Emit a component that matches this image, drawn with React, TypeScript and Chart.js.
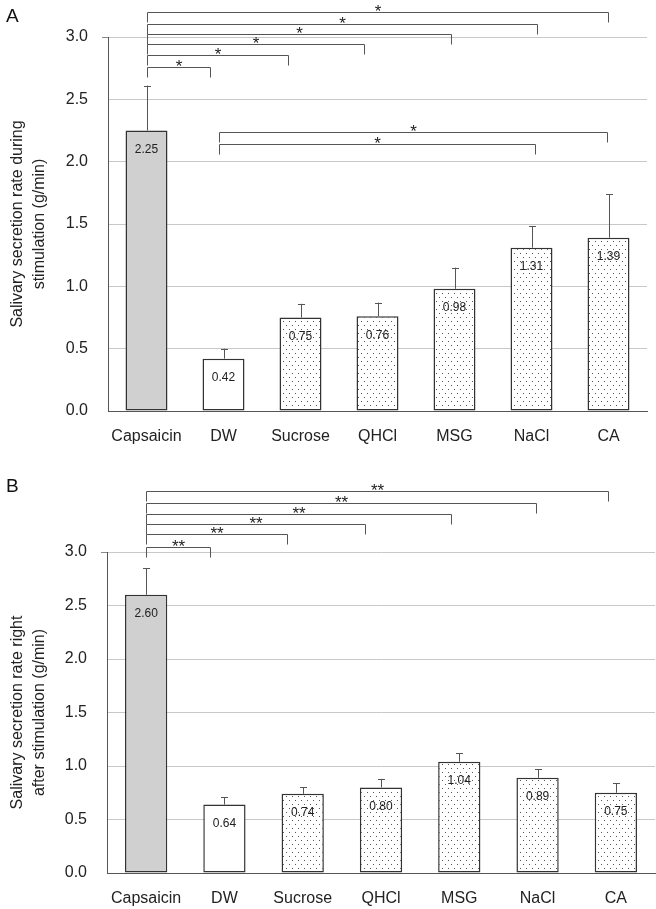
import React, { useEffect, useRef } from "react";
import { Chart, registerables } from "chart.js";
Chart.register(...registerables);

const FONT = "'Liberation Sans', Arial, sans-serif";

const categories = ["Capsaicin", "DW", "Sucrose", "QHCl", "MSG", "NaCl", "CA"];

const meansA = [2.25, 0.42, 0.75, 0.76, 0.98, 1.31, 1.39];
const sdA = [0.36, 0.08, 0.11, 0.11, 0.17, 0.17, 0.35];

const meansB = [2.6, 0.64, 0.74, 0.8, 1.04, 0.89, 0.75];
const sdB = [0.25, 0.07, 0.06, 0.08, 0.08, 0.08, 0.09];

const yMin = 0;
const yMax = 3;
const yStep = 0.5;

const titleA = ["Salivary secretion rate during", "stimulation (g/min)"];
const titleB = ["Salivary secretion rate right", "after stimulation (g/min)"];

// significance brackets: start / end in category-index units, level in y units
const bracketStartA = [0, 0, 0, 0, 0, 0, 0.94, 0.94];
const bracketEndA = [0.825, 1.84, 2.82, 3.95, 5.07, 5.99, 5.05, 5.98];
const bracketLevelA = [2.757, 2.856, 2.941, 3.022, 3.104, 3.198, 2.139, 2.235];
const bracketMarkA = ["*", "*", "*", "*", "*", "*", "*", "*"];

const bracketStartB = [0, 0, 0, 0, 0, 0];
const bracketEndB = [0.82, 1.8, 2.79, 3.89, 4.98, 5.9];
const bracketLevelB = [3.05, 3.165, 3.265, 3.358, 3.454, 3.566];
const bracketMarkB = ["**", "**", "**", "**", "**", "**"];

type Cfg = {
  letter: string;
  letterY: number;
  means: number[];
  sds: number[];
  title: string[];
  bStart: number[];
  bEnd: number[];
  bLevel: number[];
  bMark: string[];
  height: number;
  padTop: number;
  padRight: number;
  yWidth: number;
  xHeight: number;
  barPct: number;
};

function makeOverlay(cfg: Cfg) {
  return {
    id: "overlay" + cfg.letter,
    afterDatasetsDraw(chart: any) {
      const ctx = chart.ctx;
      const ys = chart.scales.y;
      const xs = chart.scales.x;
      const meta = chart.getDatasetMeta(0);
      ctx.save();
      // error bars
      ctx.strokeStyle = "#555";
      ctx.lineWidth = 1;
      meta.data.forEach((bar: any, i: number) => {
        const x = Math.round(bar.x) + 0.5;
        const yTop = ys.getPixelForValue(cfg.means[i] + cfg.sds[i]);
        ctx.beginPath();
        ctx.moveTo(x, bar.y);
        ctx.lineTo(x, yTop);
        ctx.moveTo(x - 3.5, Math.round(yTop) + 0.5);
        ctx.lineTo(x + 3.5, Math.round(yTop) + 0.5);
        ctx.stroke();
      });
      // value labels
      ctx.fillStyle = "#222";
      ctx.font = `12px ${FONT}`;
      ctx.textAlign = "center";
      ctx.textBaseline = "middle";
      meta.data.forEach((bar: any, i: number) => {
        ctx.fillText(cfg.means[i].toFixed(2), bar.x, bar.y + 19);
      });
      // brackets
      const x0 = xs.getPixelForValue(0);
      const step = xs.getPixelForValue(1) - x0;
      ctx.strokeStyle = "#555";
      ctx.lineWidth = 1;
      ctx.font = `17px ${FONT}`;
      ctx.textBaseline = "alphabetic";
      for (let k = 0; k < cfg.bLevel.length; k++) {
        const xa = Math.round(x0 + cfg.bStart[k] * step) + 0.5;
        const xb = Math.round(x0 + cfg.bEnd[k] * step) + 0.5;
        const y = Math.round(ys.getPixelForValue(cfg.bLevel[k])) + 0.5;
        ctx.beginPath();
        ctx.moveTo(xa, y + 10);
        ctx.lineTo(xa, y);
        ctx.lineTo(xb, y);
        ctx.lineTo(xb, y + 10);
        ctx.stroke();
        ctx.fillStyle = "#222";
        ctx.fillText(cfg.bMark[k], (xa + xb) / 2, y + 4);
      }
      // panel letter
      ctx.textAlign = "left";
      ctx.textBaseline = "middle";
      ctx.font = `19px ${FONT}`;
      ctx.fillStyle = "#111";
      ctx.fillText(cfg.letter, 6, cfg.letterY);
      ctx.restore();
    },
  };
}

function Panel({ cfg }: { cfg: Cfg }) {
  const ref = useRef<HTMLCanvasElement | null>(null);
  useEffect(() => {
    const canvas = ref.current!;
    const c2 = canvas.getContext("2d")!;
    const tile = document.createElement("canvas");
    tile.width = 6;
    tile.height = 8;
    const g = tile.getContext("2d")!;
    g.fillStyle = "#fff";
    g.fillRect(0, 0, 6, 8);
    g.fillStyle = "#555";
    g.fillRect(1, 1, 1, 1);
    g.fillRect(4, 5, 1, 1);
    const pattern = c2.createPattern(tile, "repeat")!;
    const fills = categories.map((_, i) => (i === 0 ? "#d0d0d0" : i === 1 ? "#ffffff" : pattern));

    const chart = new Chart(canvas, {
      type: "bar",
      data: {
        labels: categories,
        datasets: [
          {
            data: cfg.means,
            backgroundColor: fills as any,
            borderColor: "#333",
            borderWidth: 1.5,
            borderSkipped: false,
            barPercentage: cfg.barPct,
            categoryPercentage: 1,
          },
        ],
      },
      options: {
        responsive: false,
        animation: false,
        layout: { padding: { top: cfg.padTop, right: cfg.padRight, left: 0, bottom: 0 } },
        plugins: { legend: { display: false }, tooltip: { enabled: false } },
        scales: {
          x: {
            grid: { display: false, drawTicks: false },
            border: { display: true, color: "#555", width: 1 },
            ticks: { font: { family: FONT, size: 16 }, color: "#222", padding: 16, maxRotation: 0 },
            afterFit: (s: any) => {
              s.height = cfg.xHeight;
            },
          },
          y: {
            min: yMin,
            max: yMax,
            ticks: {
              stepSize: yStep,
              callback: (v: any) => Number(v).toFixed(1),
              font: { family: FONT, size: 16 },
              color: "#222",
              padding: 14,
            },
            grid: {
              color: (c: any) => (c.tick && c.tick.value === 0 ? "#555" : "#c8c8c8"),
              tickLength: 6,
              tickColor: (c: any) => (c.tick && c.tick.value === yMax ? "#888" : "rgba(0,0,0,0)"),
              lineWidth: 1,
            },
            border: { color: "#555", width: 1 },
            title: {
              display: true,
              text: cfg.title,
              font: { family: FONT, size: 16, lineHeight: 1.4 },
              color: "#222",
              padding: { top: 6, bottom: 0 },
            },
            afterFit: (s: any) => {
              s.width = cfg.yWidth;
            },
          },
        },
      },
      plugins: [makeOverlay(cfg)],
    });
    return () => chart.destroy();
  }, []);
  return <canvas ref={ref} width={656} height={cfg.height} style={{ display: "block" }} />;
}

const cfgA: Cfg = {
  letter: "A",
  letterY: 17,
  means: meansA,
  sds: sdA,
  title: titleA,
  bStart: bracketStartA,
  bEnd: bracketEndA,
  bLevel: bracketLevelA,
  bMark: bracketMarkA,
  height: 455,
  padTop: 37,
  padRight: 9,
  yWidth: 108,
  xHeight: 44,
  barPct: 0.545,
};

const cfgB: Cfg = {
  letter: "B",
  letterY: 32,
  means: meansB,
  sds: sdB,
  title: titleB,
  bStart: bracketStartB,
  bEnd: bracketEndB,
  bLevel: bracketLevelB,
  bMark: bracketMarkB,
  height: 454,
  padTop: 97,
  padRight: 1,
  yWidth: 107,
  xHeight: 36,
  barPct: 0.54,
};

export default function App() {
  return (
    <div style={{ position: "absolute", left: 0, top: 0, width: 656, height: 909, background: "#fff" }}>
      <Panel cfg={cfgA} />
      <Panel cfg={cfgB} />
    </div>
  );
}
